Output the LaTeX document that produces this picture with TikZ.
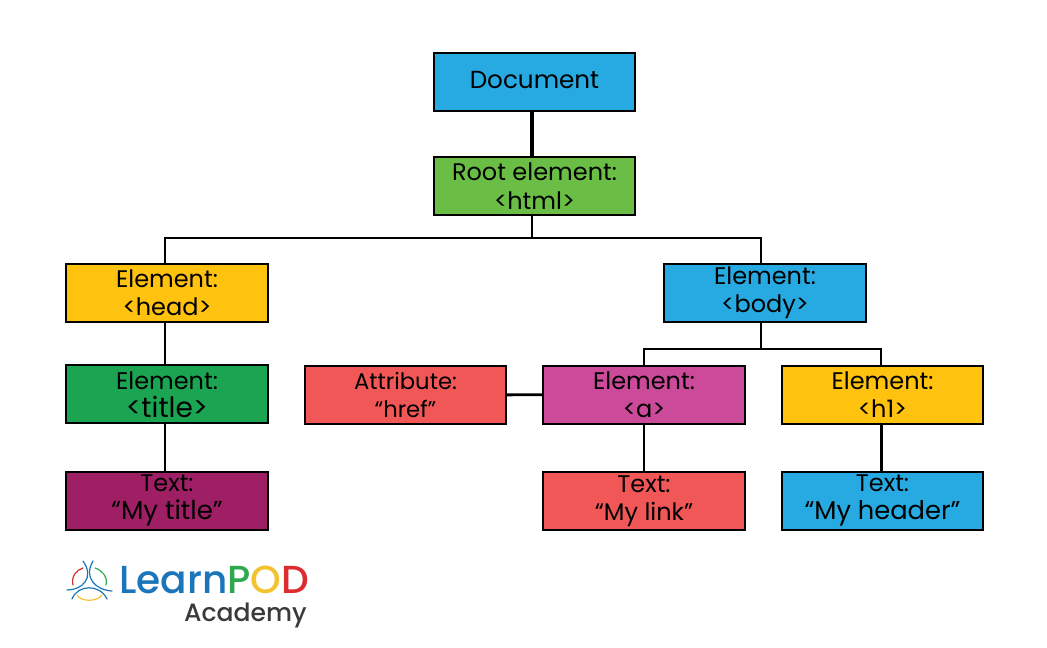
\documentclass[tikz,border=0pt]{standalone}
\usepackage{fontspec}
\setmainfont{Poppins}
\newfontfamily\logofont{Poppins Medium}
\usetikzlibrary{positioning}
\definecolor{boxblue}{HTML}{27AAE1}
\definecolor{boxlime}{HTML}{6ABD45}
\definecolor{boxyellow}{HTML}{FFC20E}
\definecolor{boxgreen}{HTML}{1BA552}
\definecolor{boxplum}{HTML}{9E1F63}
\definecolor{boxred}{HTML}{F15757}
\definecolor{boxpink}{HTML}{CB4A9A}
\definecolor{logoblue}{HTML}{1B75BB}
\definecolor{logogreen}{HTML}{2FA84F}
\definecolor{logoyellow}{HTML}{F2C230}
\definecolor{logored}{HTML}{DD2C2F}
\definecolor{logodark}{HTML}{3A3A3A}
\newcommand{\bigline}[2]{{\fontsize{#1}{21}\selectfont #2}}

\begin{document}
\begin{tikzpicture}[x=0.75pt, y=-0.75pt,
    % Box styles
    treebox/.style={rectangle, draw=black, line width=1.5pt, minimum width=151pt, minimum height=43.5pt,
                    inner sep=0pt, align=center, font=\fontsize{18}{21}\selectfont, text=black},
    link/.style={draw=black, line width=1.5pt},
    biglink/.style={draw=black, line width=2.2pt},
    toplink/.style={draw=black, line width=2.9pt},
    logoline/.style={line width=0.9pt, line cap=round}
]
\useasboundingbox (0,0) rectangle (1047,647);

% Top of the tree
\node[treebox, fill=boxblue, font=\fontsize{18.5}{22}\selectfont] at (534.5,81.5) (document) {\raisebox{2.5pt}{Document}};
\node[treebox, fill=boxlime, below=33.7pt of document] (root) {\raisebox{1pt}{Root element:}\\<html>};

% Second row
\node[treebox, fill=boxyellow] at (167,292.5) (head) {Element:\\<head>};
\node[treebox, fill=boxblue] at (765,292.5) (body) {Element:\\<body>};

% Third row
\node[treebox, fill=boxgreen, below=31.4pt of head] (title) {Element:\\\bigline{21}{<title>}};
\node[treebox, fill=boxred, font=\fontsize{17}{21}\selectfont] at (405.5,395) (href) {Attribute:\\``href''};
\node[treebox, fill=boxpink] at (644,394.5) (anchor) {Element:\\<a>};
\node[treebox, fill=boxyellow] at (882.5,394.5) (hone) {Element:\\<h1>};

% Text leaves
\node[treebox, fill=boxplum, below=34.7pt of title] (mytitle) {Text:\\\bigline{19.5}{``My title''}};
\node[treebox, fill=boxred, below=34.7pt of anchor] (mylink) {Text:\\``My link''};
\node[treebox, fill=boxblue, below=34.7pt of hone] (myheader) {Text:\\\bigline{19.3}{``My header''}};

% Junctions
\coordinate (rootfork) at ([xshift=-1.9pt, yshift=-16.5pt]root.south);
\coordinate (bodyfork) at ([xshift=-3pt, yshift=-19.5pt]body.south);

% Connections
\draw[toplink] ([xshift=-1.9pt]document.south) -- ([xshift=-1.9pt]root.north);
\draw[link] ([xshift=-1.9pt]root.south) -- (rootfork);
\draw[link] ([xshift=-1.5pt]head.north) |- (rootfork) -| ([xshift=-3pt]body.north);
\draw[biglink] ([xshift=-1.5pt]head.south) -- ([xshift=-1.5pt]title.north);
\draw[biglink] ([xshift=-1.5pt]title.south) -- ([xshift=-1.5pt]mytitle.north);
\draw[biglink] ([xshift=-3pt]body.south) -- (bodyfork);
\draw[link] (anchor.north) |- (bodyfork) -| ([xshift=-1pt]hone.north);
\draw[biglink] (href) -- (anchor);
\draw[biglink] (anchor.south) -- (mylink.north);
\draw[biglink] ([xshift=-1pt]hone.south) -- ([xshift=-1pt]myheader.north);

% Logo
\node[anchor=west, inner sep=0pt, font=\logofont\fontsize{29.3}{29}\selectfont] at (119,580) (learnpod)
    {\textcolor{logoblue}{Learn}\textcolor{logogreen}{P}\textcolor{logoyellow}{O}\textcolor{logored}{D}};
\node[anchor=east, inner sep=0pt, font=\logofont\fontsize{18.8}{19}\selectfont, text=logodark] at (307,615) (academy) {Academy};
\draw[logoline, logoblue] (67,590) .. controls (82,590) and (95,578) .. (83,561);
\draw[logoline, logoblue] (112,591) .. controls (96,590) and (83,578) .. (93,561);
\draw[logoline, logoblue] (72,599) .. controls (78,584) and (100,584) .. (107,599);
\draw[logoline, logored] (73,585) .. controls (71,577) and (76,570) .. (83,568);
\draw[logoline, logogreen] (106,585) .. controls (108,577) and (102,570) .. (95,568);
\draw[logoline, logoyellow] (77,595) .. controls (81,602) and (97,602) .. (102,595);
\end{tikzpicture}
\end{document}
